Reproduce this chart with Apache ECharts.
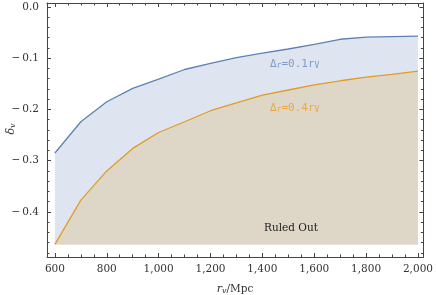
<!DOCTYPE html>
<html><head><meta charset="utf-8">
<script src="https://cdn.jsdelivr.net/npm/echarts@6/dist/echarts.min.js"></script>
<style>html,body{margin:0;padding:0;background:#fff}#c{width:436px;height:295px}</style>
</head><body><div id="c"></div>
<script>
const rv = [600,700,800,900,1000,1100,1200,1300,1400,1500,1600,1700,1800,1900,2000];
const delta01 = [-0.285,-0.224,-0.185,-0.159,-0.141,-0.122,-0.110,-0.099,-0.090,-0.082,-0.073,-0.063,-0.059,-0.058,-0.057];
const delta04 = [-0.4635,-0.377,-0.320,-0.276,-0.245,-0.224,-0.2025,-0.187,-0.172,-0.162,-0.152,-0.144,-0.137,-0.1315,-0.125];
const floorValue = -0.4635;
const xTickLabels = [600,800,1000,1200,1400,1600,1800,2000];
const yTickLabels = [0,-0.1,-0.2,-0.3,-0.4];

const xMin = 569.5, xMax = 2021, yMin = -0.488, yMax = 0.0078;
const xMinor = []; for (let v = 600; v <= 2000; v += 50) xMinor.push(v);
const yMinor = []; for (let i = 0; i <= 24; i++) yMinor.push(-i * 0.02);

const frame = '#444';
const lblFont = {fontFamily:'DejaVu Serif', fontSize:10.5, color:'#333'};
function xAx(pos, ticks, len, labels, line){
  return {type:'value', min:xMin, max:xMax, position:pos, gridIndex:0,
    axisLine:{show:line, onZero:false, lineStyle:{color:frame, width:1}},
    axisTick:{show:true, inside:true, length:len, customValues:ticks, lineStyle:{color:frame}},
    axisLabel:Object.assign({show:labels, customValues:xTickLabels, margin:7}, lblFont),
    splitLine:{show:false}};
}
function yAx(pos, ticks, len, labels, line){
  return {type:'value', min:yMin, max:yMax, position:pos, gridIndex:0,
    axisLine:{show:line, onZero:false, lineStyle:{color:frame, width:1}},
    axisTick:{show:true, inside:true, length:len, customValues:ticks, lineStyle:{color:frame}},
    axisLabel:Object.assign({show:labels, customValues:yTickLabels, margin:8,
      formatter: v => Math.abs(v) < 1e-9 ? '0.0' : '\u2212\u2009' + Math.abs(v).toFixed(1)}, lblFont),
    splitLine:{show:false}};
}

const chart = echarts.init(document.getElementById('c'), null, {renderer:'canvas'});
const pairs = (ys) => rv.map((x,i) => [x, ys[i]]);
chart.setOption({
  animation:false,
  backgroundColor:'#fff',
  grid:{left:47, right:8, top:3, bottom:38, containLabel:false},
  xAxis:[xAx('bottom', xTickLabels, 4, true, true), xAx('bottom', xMinor, 2.5, false, false),
         xAx('top', xTickLabels, 4, false, true), xAx('top', xMinor, 2.5, false, false)],
  yAxis:[yAx('left', yTickLabels, 4, true, true), yAx('left', yMinor, 2.5, false, false),
         yAx('right', yTickLabels, 4, false, true), yAx('right', yMinor, 2.5, false, false)],
  series:[
    {type:'line', name:'blueArea', data:pairs(delta01), symbol:'none', z:1,
     lineStyle:{width:0}, areaStyle:{color:'#dfe5f0', opacity:1, origin:floorValue}},
    {type:'line', name:'orangeArea', data:pairs(delta04), symbol:'none', z:2,
     lineStyle:{width:0}, areaStyle:{color:'#ded7c8', opacity:1, origin:floorValue}},
    {type:'line', name:'Δr=0.1rV', data:pairs(delta01), symbol:'none', z:3,
     lineStyle:{color:'#5e81b5', width:1.3}},
    {type:'line', name:'Δr=0.4rV', data:pairs(delta04), symbol:'none', z:3,
     lineStyle:{color:'#e19c24', width:1.3}}
  ],
  graphic:[
    {type:'text', left:270, top:59, z:10, style:{
      text:'{m|\u0394}{s|r}{m|=0.1r}{s|V}', fill:'#7f9acb',
      rich:{m:{fontFamily:'DejaVu Sans Mono', fontSize:11, fill:'#7f9acb', lineHeight:14, verticalAlign:'bottom'},
            s:{fontFamily:'DejaVu Sans Mono', fontSize:8, fill:'#7f9acb', lineHeight:14, verticalAlign:'bottom', padding:[3,0,0,0]}}}},
    {type:'text', left:270, top:103, z:10, style:{
      text:'{m|\u0394}{s|r}{m|=0.4r}{s|V}', fill:'#e6a94a',
      rich:{m:{fontFamily:'DejaVu Sans Mono', fontSize:11, fill:'#e6a94a', lineHeight:14, verticalAlign:'bottom'},
            s:{fontFamily:'DejaVu Sans Mono', fontSize:8, fill:'#e6a94a', lineHeight:14, verticalAlign:'bottom', padding:[3,0,0,0]}}}},
    {type:'text', x:291, y:228, z:10, style:{text:'Ruled Out', fontFamily:'DejaVu Serif', fontSize:10.5, fill:'#222',
      align:'center', verticalAlign:'middle'}},
    {type:'text', x:235, y:288, z:10, style:{
      text:'{i|r}{s|v}{n|/Mpc}', align:'center', verticalAlign:'middle',
      rich:{i:{fontFamily:'DejaVu Serif', fontStyle:'italic', fontSize:11, fill:'#333', verticalAlign:'bottom', lineHeight:14},
            s:{fontFamily:'DejaVu Serif', fontStyle:'italic', fontSize:8, fill:'#333', verticalAlign:'bottom', lineHeight:14, padding:[3,0,0,0]},
            n:{fontFamily:'DejaVu Serif', fontSize:10.5, fill:'#333', verticalAlign:'bottom', lineHeight:14}}}},
    {type:'text', x:10, y:129, rotation:Math.PI/2, z:10, style:{
      text:'{i|\u03b4}{s|v}', align:'center', verticalAlign:'middle',
      rich:{i:{fontFamily:'DejaVu Serif', fontStyle:'italic', fontSize:11, fill:'#333', verticalAlign:'bottom', lineHeight:14},
            s:{fontFamily:'DejaVu Serif', fontStyle:'italic', fontSize:8, fill:'#333', verticalAlign:'bottom', lineHeight:14, padding:[3,0,0,0]}}}}
  ]
});
</script></body></html>
